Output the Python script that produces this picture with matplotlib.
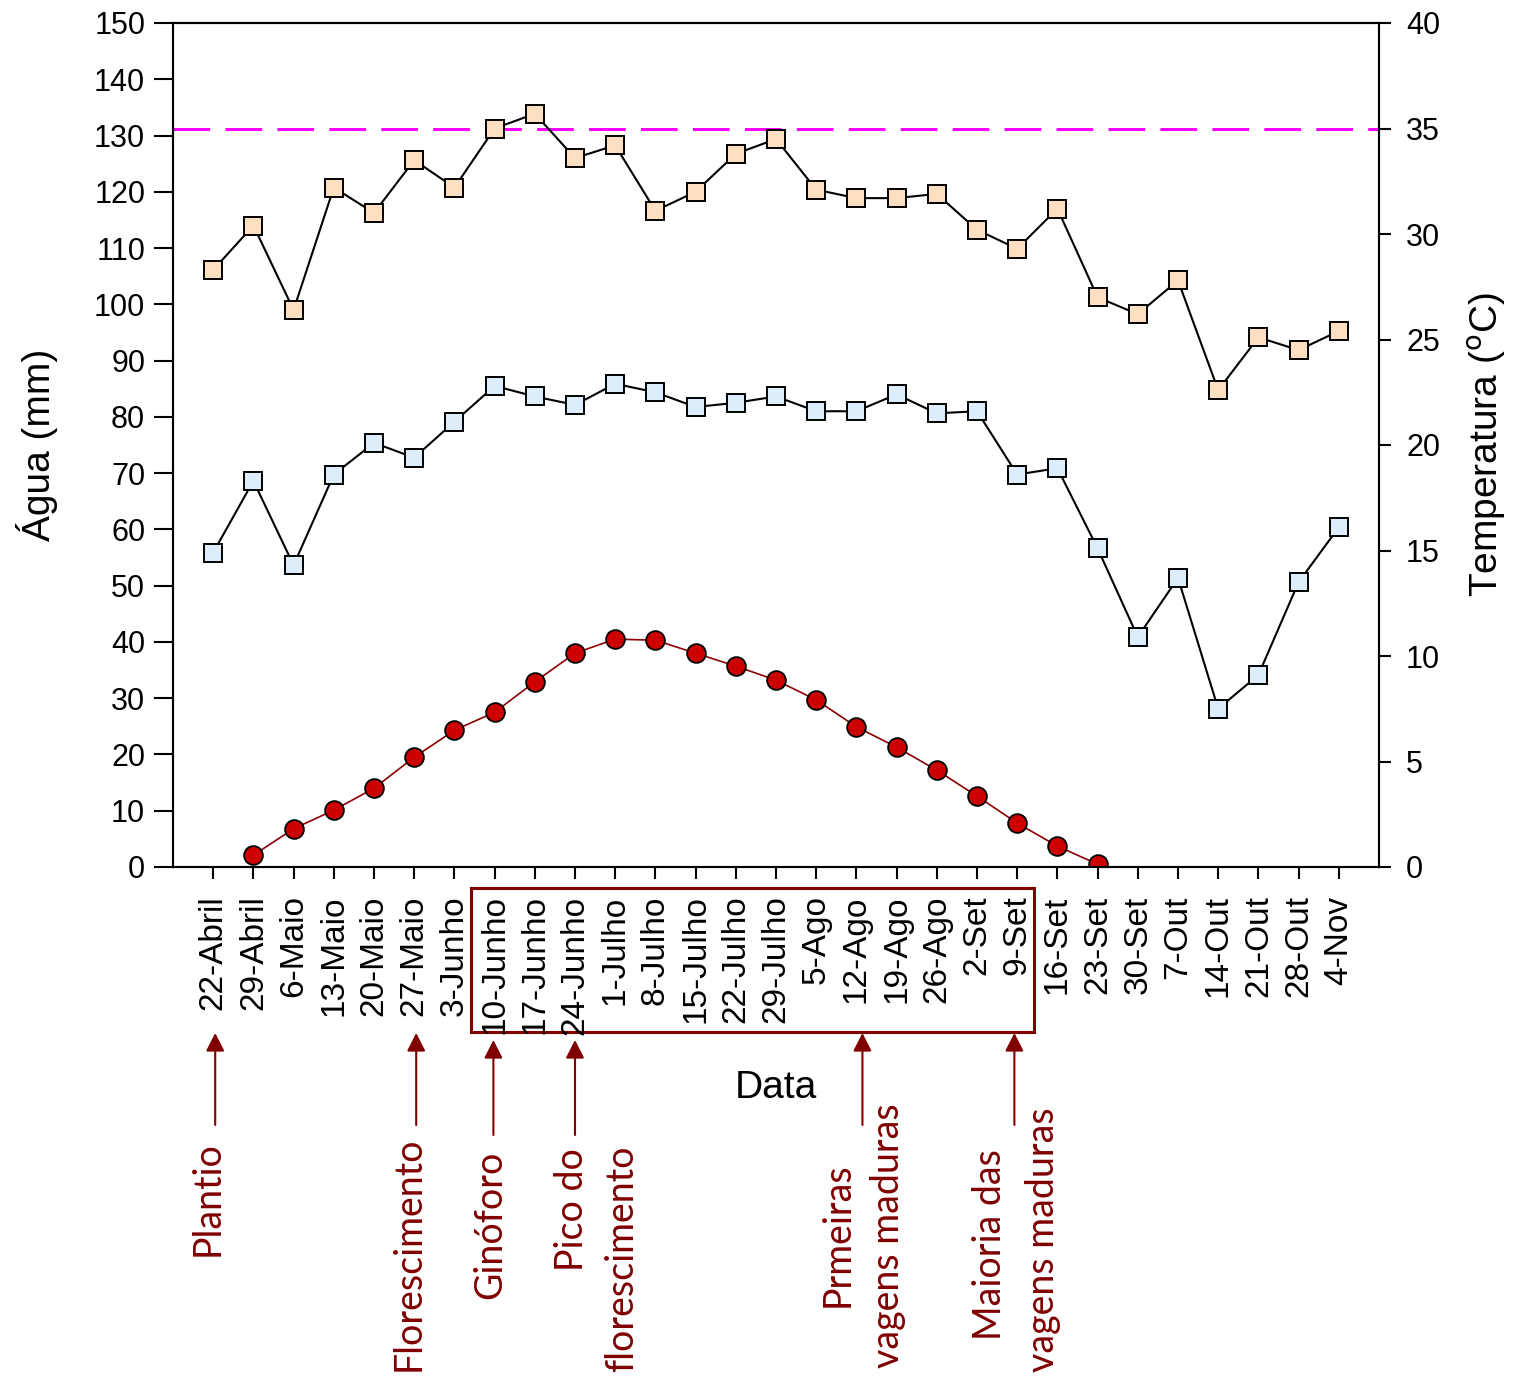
import numpy as np
import matplotlib
matplotlib.use('Agg')
import matplotlib.pyplot as plt
import matplotlib.transforms as mtransforms
from matplotlib.patches import Rectangle

plt.rcParams['font.family'] = ['Liberation Sans', 'DejaVu Sans']

# datas semanais
datas = ['22-Abril', '29-Abril', '6-Maio', '13-Maio', '20-Maio', '27-Maio',
         '3-Junho', '10-Junho', '17-Junho', '24-Junho', '1-Julho', '8-Julho',
         '15-Julho', '22-Julho', '29-Julho', '5-Ago', '12-Ago', '19-Ago',
         '26-Ago', '2-Set', '9-Set', '16-Set', '23-Set', '30-Set', '7-Out',
         '14-Out', '21-Out', '28-Out', '4-Nov']

# temperatura maxima e minima (oC)
t_max = [28.3, 30.4, 26.4, 32.2, 31.0, 33.5, 32.2, 35.0, 35.7, 33.6, 34.2, 31.1,
         32.0, 33.8, 34.5, 32.1, 31.7, 31.7, 31.9, 30.2, 29.3, 31.2, 27.0, 26.2,
         27.8, 22.6, 25.1, 24.5, 25.4]
t_min = [14.9, 18.3, 14.3, 18.6, 20.1, 19.4, 21.1, 22.8, 22.3, 21.9, 22.9, 22.5,
         21.8, 22.0, 22.3, 21.6, 21.6, 22.4, 21.5, 21.6, 18.6, 18.9, 15.1, 10.9,
         13.7, 7.5, 9.1, 13.5, 16.1]

# consumo de agua (mm) entre plantio e colheita
agua = [np.nan, 2.1, 6.8, 10.1, 14.0, 19.5, 24.3, 27.5, 32.9, 38.0, 40.5, 40.3,
        38.0, 35.7, 33.2, 29.7, 24.9, 21.3, 17.2, 12.6, 7.8, 3.7, 0.5, np.nan,
        np.nan, np.nan, np.nan, np.nan, np.nan]

t_limite = 35

# fases da cultura: posicao da seta (indice da data)
fases_x = [0.05, 5.05, 6.97, 9.0, 16.15, 19.93]

x = np.arange(len(datas))
vinho = '#800000'

fig = plt.figure(figsize=(15.14, 13.8), dpi=100)
W, H = 1514, 1380
ax = fig.add_axes([173 / W, 1 - 867 / H, (1379 - 173) / W, (867 - 23) / H])
ax2 = ax.twinx()

# agua no eixo esquerdo
ax.plot(x, agua, color='#8B0000', lw=1.2, marker='o', ms=13.5,
        mfc='#CC0000', mec='black', mew=1.3, zorder=3)

# temperaturas no eixo direito
ax2.axhline(t_limite, color='#FF00FF', lw=2.2, dashes=(12, 5), zorder=1)
ax2.plot(x, t_max, color='black', lw=1.5, marker='s', ms=12.5,
         mfc='#FDDFC2', mec='black', mew=1.4, zorder=3)
ax2.plot(x, t_min, color='black', lw=1.5, marker='s', ms=12.5,
         mfc='#DDEDFC', mec='black', mew=1.4, zorder=3)

ax.set_xlim(-1, 29)
ax.set_ylim(0, 150)
ax.set_yticks(np.arange(0, 151, 10))
ax2.set_ylim(0, 40)
ax2.set_yticks(np.arange(0, 41, 5))
ax.set_xticks(x)
ax.set_xticklabels(datas, rotation=90, ha='center', va='top')

ax.tick_params(axis='y', direction='out', length=14, width=1.5, labelsize=22, pad=6)
ax.tick_params(axis='x', direction='out', length=8.5, width=1.5, labelsize=24, pad=12)
ax2.tick_params(axis='y', direction='out', length=8.5, width=1.5, labelsize=22, pad=11)
for a in (ax, ax2):
    for s in a.spines.values():
        s.set_linewidth(1.5)

fig.text(37 / W, 1 - 445 / H, 'Água (mm)', rotation=90, ha='center', va='center', fontsize=28)
fig.text(1487 / W, 1 - 445 / H, 'Temperatura ($^{\\rm o}$C)', rotation=90,
         ha='center', va='center', fontsize=28)
fig.text(776 / W, 1 - 1088 / H, 'Data', ha='center', va='center', fontsize=28)

# caixa em volta do ciclo principal
trans = mtransforms.blended_transform_factory(ax.transData, fig.transFigure)
ax.add_patch(Rectangle((6.42, 1 - 1032 / H), 20.41 - 6.42, (1032 - 888) / H,
                       transform=trans, fill=False, ec=vinho, lw=2.2, clip_on=False))

# setas das fases
for i, fx in enumerate(fases_x):
    y0 = 1135 if i in (2, 3) else 1125
    y1 = 1040 if i in (2, 3) else 1033
    ax.annotate('', xy=(fx, 1 - y1 / H), xytext=(fx, 1 - y0 / H),
                xycoords=trans, textcoords=trans,
                arrowprops=dict(arrowstyle='-|>,head_length=0.55,head_width=0.28',
                                mutation_scale=20, color=vinho, lw=1.5,
                                shrinkA=0, shrinkB=0))

# textos das fases
rotulos = [(208, 1199, 'Plantio'), (409, 1254, 'Florescimento'),
           (490, 1225, 'Ginóforo'), (572, 1210, 'Pico do'),
           (622, 1259, 'florescimento'), (838, 1235, 'Prmeiras'),
           (888, 1236, 'vagens maduras'), (990, 1245, 'Maioria das'),
           (1043, 1240, 'vagens maduras')]
for px, py, txt in rotulos:
    fig.text(px / W, 1 - py / H, txt, rotation=90, ha='center', va='center',
             fontsize=27, color=vinho, family=['Lato', 'DejaVu Sans'])

fig.savefig('out.png', dpi=100)
